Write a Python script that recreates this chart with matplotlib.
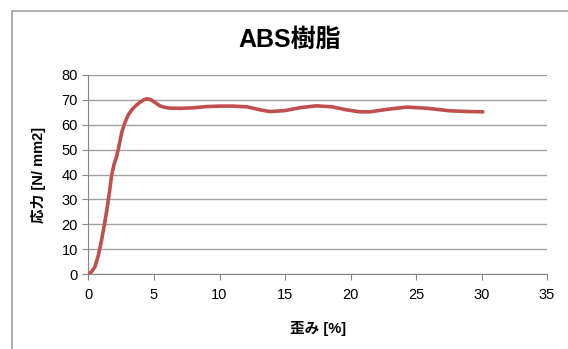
import matplotlib
matplotlib.use("Agg")
import matplotlib.pyplot as plt
from matplotlib.patches import Rectangle

plt.rcParams['font.family'] = ['Liberation Sans', 'Noto Sans CJK JP', 'DejaVu Sans']

# stress-strain curve of ABS resin
strain = [0.0, 0.25, 0.5, 0.75, 1.0, 1.2, 1.4, 1.6, 1.77, 1.95, 2.15, 2.35, 2.53,
          2.75, 3.04, 3.35, 3.68, 4.0, 4.2, 4.44, 4.7, 4.95, 5.2, 5.45, 5.8, 6.2,
          7.0, 8.0, 9.0, 10.0, 11.0, 12.1, 13.1, 13.85, 15.0, 16.2, 17.4, 18.6,
          19.7, 20.7, 21.5, 22.8, 24.3, 25.9, 27.6, 29.0, 30.1]
stress = [0.0, 1.0, 3.0, 7.5, 13.7, 19.5, 25.7, 33.0, 39.8, 44.0, 47.3, 52.0, 56.7,
          60.5, 64.0, 66.3, 68.0, 69.3, 70.0, 70.4, 70.2, 69.4, 68.5, 67.6, 67.0, 66.7,
          66.6, 66.8, 67.3, 67.5, 67.5, 67.2, 66.0, 65.3, 65.7, 66.9, 67.6, 67.2,
          66.0, 65.2, 65.2, 66.2, 67.1, 66.6, 65.6, 65.3, 65.2]

xticks = [0, 5, 10, 15, 20, 25, 30, 35]
yticks = [0, 10, 20, 30, 40, 50, 60, 70, 80]

fig = plt.figure(figsize=(5.68, 3.49), dpi=100)
fig.patches.append(Rectangle((12 / 568, -0.01), 1.0, 1 - 11 / 349 + 0.01,
                             transform=fig.transFigure, fill=False,
                             edgecolor='#a0a0a0', linewidth=1.2))

ax = fig.add_axes([88.5 / 568, 1 - 274 / 349, (547 - 88.5) / 568, (274 - 75) / 349])
ax.plot(strain, stress, color='#c0504d', linewidth=2.6, solid_joinstyle='round',
        solid_capstyle='round', zorder=3)

ax.set_xlim(0, 35)
ax.set_ylim(0, 80)
ax.set_xticks(xticks)
ax.set_yticks(yticks)
ax.grid(axis='y', color='#a0a0a0', linewidth=1.0)
ax.set_axisbelow(True)
for s in ['top', 'right']:
    ax.spines[s].set_visible(False)
ax.spines['left'].set_color('#868686')
ax.spines['bottom'].set_color('#868686')
ax.tick_params(axis='both', colors='#868686', labelcolor='black', labelsize=10.5,
               length=4, direction='out')
ax.tick_params(axis='x', pad=6)

ax.set_xlabel('歪み [%]', fontsize=10.5, fontweight='bold', labelpad=14)
ax.set_ylabel('応力 [N/ mm2]', fontsize=10.5, fontweight='bold', labelpad=11)
fig.text(290 / 568, 1 - 40 / 349, 'ABS樹脂', fontsize=18, fontweight='bold',
         ha='center', va='center')

fig.savefig('out.png', dpi=100)
